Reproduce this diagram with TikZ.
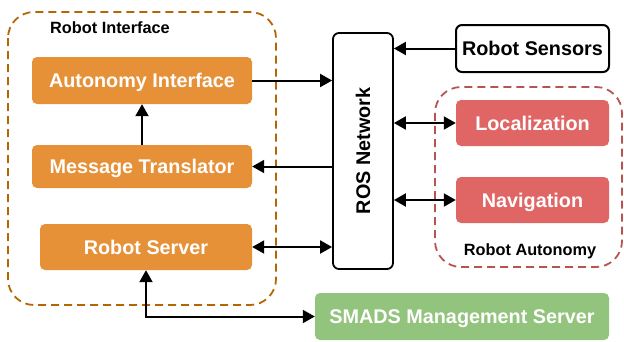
\documentclass[tikz,border=0pt]{standalone}
\usepackage{fontspec}
\setmainfont{Liberation Sans}
\usetikzlibrary{arrows.meta,calc}
\definecolor{orfill}{HTML}{E69138}
\definecolor{orline}{HTML}{B46504}
\definecolor{rdfill}{HTML}{E06666}
\definecolor{rdline}{HTML}{B85450}
\definecolor{grfill}{HTML}{93C47D}
\tikzset{
  capc/.style={text height=14.2pt, text depth=0pt},
  box/.style={rounded corners=5pt, draw=none, text=white, font=\fontsize{19.8}{22}\selectfont\bfseries, inner sep=0pt, capc},
  obox/.style={box, fill=orfill},
  rbox/.style={box, fill=rdfill},
  gbox/.style={box, fill=grfill},
  wbox/.style={rounded corners=6pt, draw=black, line width=2pt, fill=white, text=black, font=\fontsize{19.8}{22}\selectfont\bfseries, inner sep=0pt, capc},
  group/.style={dashed, dash pattern=on 8pt off 5pt, line width=1.8pt, rounded corners=26pt},
  glabel/.style={font=\fontsize{16.3}{18}\selectfont\bfseries, text=black, inner sep=0pt, text height=11.7pt, text depth=0pt},
  conn/.style={line width=2pt, -{Triangle[length=12pt,width=13pt]}},
  dconn/.style={line width=2pt, {Triangle[length=12pt,width=13pt]}-{Triangle[length=12pt,width=13pt]}},
}
\begin{document}
\begin{tikzpicture}[x=1pt,y=-1pt]
\useasboundingbox (0,0) rectangle (624,341);
% groups
\draw[group, draw=orline] (8,12) rectangle (276,305);
\node[glabel] (rilab) at (110,28) {Robot Interface};
\draw[group, draw=rdline] (435,87) rectangle (622,267);
\node[glabel] (ralab) at (530,250) {Robot Autonomy};
% nodes
\node[obox, minimum width=220pt, minimum height=47pt] (ai) at (142,80.5) {Autonomy Interface};
\node[obox, minimum width=220pt, minimum height=43pt] (mt) at (142,166.5) {Message Translator};
\node[obox, minimum width=212pt, minimum height=46pt] (rs) at (146,247) {Robot Server};
\node[wbox, minimum width=60pt, minimum height=236pt, line width=1.8pt] (ros) at (363,151) {};
\node[font=\fontsize{19.8}{22}\selectfont\bfseries, capc, inner sep=0pt, rotate=90] (roslab) at (ros.center) {ROS Network};
\node[wbox, minimum width=153pt, minimum height=47pt] (sens) at (532.5,48.5) {Robot Sensors};
\node[rbox, minimum width=153pt, minimum height=46pt] (loc) at (532.5,123) {Localization};
\node[rbox, minimum width=153pt, minimum height=46pt] (nav) at (532.5,200) {Navigation};
\node[gbox, minimum width=294pt, minimum height=47pt] (smads) at (462,316.5) {SMADS Management Server};
% connectors
\draw[conn] (mt.north) -- (ai.south);
\draw[conn] (ai.east) -- (ai.east -| ros.west);
\draw[conn] (mt.east -| ros.west) -- (mt.east);
\draw[dconn] (rs.east) -- (rs.east -| ros.west);
\draw[conn] (sens.west) -- (sens.west -| ros.east);
\draw[dconn] (ros.east |- loc.west) -- (loc.west);
\draw[dconn] (ros.east |- nav.west) -- (nav.west);
\draw[dconn] (rs.south) |- (smads.west);
\end{tikzpicture}
\end{document}
